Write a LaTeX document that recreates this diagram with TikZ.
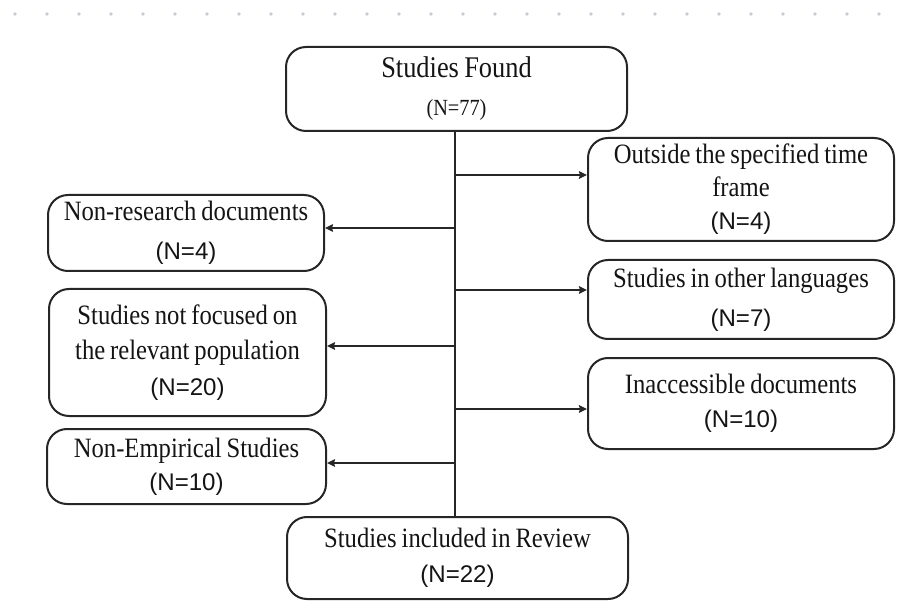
\documentclass[tikz,border=0pt]{standalone}
\usepackage{fontspec}
\setmainfont[FakeStretch=0.88,WordSpace=0.8]{Liberation Serif}
\newfontfamily\nsans[Scale=0.86]{Liberation Sans}
\newfontfamily\nserif[Scale=0.77,FakeStretch=0.88]{Liberation Serif}
\usetikzlibrary{arrows.meta}
\definecolor{ink}{HTML}{141414}
\definecolor{edge}{HTML}{262626}
\definecolor{dotc}{HTML}{C6CBD6}
\newcommand\fsz[2]{\fontsize{#1}{#2}\selectfont}
\tikzset{
  x=1pt, y=-1pt,
  box/.style={draw=edge, line width=2pt, rounded corners=20pt, align=center,
    text=ink, inner sep=0pt, anchor=north west},
  flow/.style={draw=edge, line width=1.9pt},
  arr/.style={flow, -{Stealth[length=8pt,width=7.5pt,inset=1pt]}},
  dotmark/.style={fill=dotc, draw=none}
}
\begin{document}
\begin{tikzpicture}
\useasboundingbox (0,0) rectangle (899,601);
% dotted row at the top
\foreach \i in {0,...,27} {
  \fill[dotmark] (15+32*\i,14) circle (1.8pt);
}
% boxes
\node[box, minimum width=341pt, minimum height=84pt, font=\fsz{30}{38}] (found) at (285,46)
  {Studies Found\\{\nserif (N=77)}};
\node[box, minimum width=306pt, minimum height=103pt, font=\fsz{28}{33}] (outside) at (587,137)
  {Outside the specified time\\frame\\{\nsans (N=4)}};
\node[box, minimum width=276pt, minimum height=76pt, font=\fsz{28}{39}] (nonres) at (47,194)
  {Non-research documents\\{\nsans (N=4)}};
\node[box, minimum width=306pt, minimum height=79pt, font=\fsz{28}{39}] (langs) at (587,259)
  {Studies in other languages\\{\nsans (N=7)}};
\node[box, minimum width=277pt, minimum height=127pt, font=\fsz{28}{35.5}] (focus) at (48,288)
  {Studies not focused on\\the relevant population\\{\nsans (N=20)}};
\node[box, minimum width=306pt, minimum height=91pt, font=\fsz{28}{34}] (inacc) at (587,357)
  {Inaccessible documents\\{\nsans (N=10)}};
\node[box, minimum width=279pt, minimum height=75pt, font=\fsz{28}{33}] (nonemp) at (46,428)
  {Non-Empirical Studies\\{\nsans (N=10)}};
\node[box, minimum width=341pt, minimum height=82pt, font=\fsz{28}{35}] (incl) at (286,516)
  {Studies included in Review\\{\nsans (N=22)}};
% trunk
\coordinate (top) at (455,130);
\coordinate (bot) at (455,516);
\draw[flow] (top) -- (bot);
% branch points
\coordinate (b1) at (455,175);
\coordinate (b2) at (455,228);
\coordinate (b3) at (455,290);
\coordinate (b4) at (455,346);
\coordinate (b5) at (455,409);
\coordinate (b6) at (455,463);
\draw[arr] (b1) -- (outside.west |- b1);
\draw[arr] (b2) -- (nonres.east |- b2);
\draw[arr] (b3) -- (langs.west |- b3);
\draw[arr] (b4) -- (focus.east |- b4);
\draw[arr] (b5) -- (inacc.west |- b5);
\draw[arr] (b6) -- (nonemp.east |- b6);
\end{tikzpicture}
\end{document}
